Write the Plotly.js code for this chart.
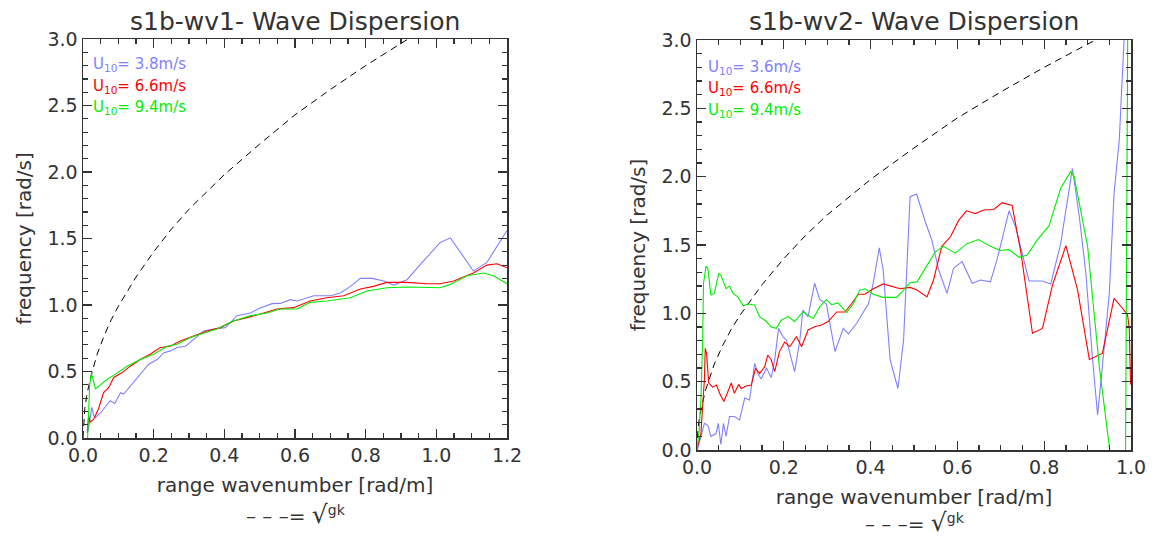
<!DOCTYPE html>
<html>
<head>
<meta charset="utf-8">
<script src="https://cdn.plot.ly/plotly-3.0.1.min.js"></script>
<style>html,body{margin:0;padding:0;background:#fff;}#chart{width:1155px;height:541px;}</style>
</head>
<body>
<div id="chart"></div>
<script>
// ---- data ----
// deep-water dispersion curve (dashed), sqrt(gk)
const dispK = [0, 0.002, 0.005, 0.01, 0.02, 0.04, 0.06, 0.08, 0.1, 0.15, 0.2, 0.25, 0.3, 0.4, 0.5, 0.6, 0.7, 0.8, 0.9, 0.95, 1.0, 1.1, 1.2];
const dispW = [0, 0.14, 0.22, 0.31, 0.44, 0.63, 0.77, 0.89, 0.99, 1.21, 1.40, 1.57, 1.72, 1.98, 2.21, 2.43, 2.62, 2.80, 2.97, 3.05, 3.13, 3.28, 3.43];

// s1b-wv1
const wv1BlueK = [0.014,0.019,0.025,0.03,0.035,0.05,0.065,0.077,0.09,0.106,0.115,0.134,0.162,0.186,0.21,0.228,0.247,0.266,0.29,0.313,0.342,0.37,0.403,0.436,0.474,0.5,0.535,0.558,0.587,0.606,0.653,0.70,0.728,0.757,0.785,0.818,0.851,0.879,0.917,0.955,1.011,1.04,1.105,1.143,1.2];
const wv1BlueW = [0.05,0.12,0.23,0.17,0.155,0.19,0.24,0.28,0.26,0.34,0.33,0.39,0.48,0.555,0.59,0.64,0.655,0.68,0.69,0.74,0.805,0.82,0.83,0.92,0.94,0.975,1.01,1.012,1.04,1.03,1.07,1.07,1.09,1.14,1.20,1.20,1.18,1.15,1.19,1.305,1.47,1.505,1.255,1.32,1.56];
const wv1RedK = [0.012,0.016,0.02,0.03,0.044,0.058,0.073,0.087,0.11,0.134,0.162,0.19,0.219,0.247,0.275,0.313,0.351,0.389,0.426,0.464,0.50,0.549,0.596,0.643,0.69,0.738,0.785,0.822,0.86,0.917,0.974,1.011,1.049,1.105,1.143,1.172,1.2];
const wv1RedW = [0.04,0.17,0.12,0.14,0.22,0.34,0.38,0.455,0.49,0.54,0.59,0.63,0.68,0.69,0.73,0.77,0.805,0.83,0.88,0.905,0.93,0.97,0.98,1.03,1.055,1.07,1.12,1.14,1.17,1.17,1.16,1.16,1.18,1.24,1.30,1.31,1.28];
const wv1GreenK = [0.013,0.016,0.019,0.024,0.029,0.035,0.045,0.068,0.092,0.125,0.162,0.2,0.238,0.266,0.304,0.342,0.379,0.426,0.474,0.521,0.558,0.606,0.643,0.69,0.757,0.804,0.86,0.917,0.974,1.011,1.04,1.087,1.134,1.162,1.2];
const wv1GreenW = [0.0,0.2,0.40,0.485,0.43,0.37,0.39,0.44,0.48,0.54,0.59,0.63,0.69,0.705,0.755,0.79,0.82,0.88,0.92,0.94,0.97,0.97,1.02,1.03,1.055,1.105,1.13,1.135,1.135,1.13,1.155,1.22,1.24,1.22,1.16];

// s1b-wv2
const wv2BlueK = [0.0015,0.005,0.013,0.017,0.025,0.032,0.044,0.049,0.055,0.061,0.067,0.075,0.086,0.098,0.11,0.121,0.133,0.14,0.148,0.16,0.171,0.179,0.188,0.198,0.206,0.225,0.237,0.244,0.256,0.271,0.283,0.298,0.318,0.337,0.349,0.368,0.395,0.406,0.42,0.429,0.445,0.463,0.476,0.491,0.506,0.526,0.541,0.557,0.576,0.591,0.611,0.634,0.653,0.676,0.692,0.719,0.734,0.765,0.796,0.815,0.838,0.865,0.881,0.896,0.911,0.923,0.934,0.95,0.961,0.973,0.99];
const wv2BlueW = [0.01,0.05,0.146,0.195,0.18,0.10,0.12,0.195,0.04,0.195,0.10,0.245,0.245,0.22,0.38,0.366,0.634,0.56,0.52,0.60,0.53,0.66,0.89,0.83,0.805,0.573,0.805,1.024,0.976,1.22,1.10,1.07,0.72,0.89,0.85,0.927,1.07,1.22,1.48,1.317,0.66,0.45,0.805,1.854,1.873,1.67,1.537,1.317,1.146,1.33,1.378,1.22,1.244,1.23,1.40,1.75,1.634,1.237,1.237,1.215,1.51,2.06,1.707,1.293,0.683,0.256,0.61,1.146,1.878,2.27,3.4];
const wv2RedK = [0,0.009,0.013,0.017,0.019,0.022,0.027,0.036,0.045,0.052,0.062,0.071,0.079,0.086,0.096,0.102,0.113,0.125,0.135,0.144,0.156,0.163,0.171,0.179,0.19,0.202,0.214,0.229,0.241,0.256,0.271,0.287,0.302,0.322,0.341,0.356,0.372,0.387,0.406,0.429,0.449,0.468,0.491,0.507,0.53,0.545,0.564,0.584,0.603,0.621,0.641,0.661,0.684,0.703,0.726,0.746,0.773,0.796,0.819,0.85,0.877,0.904,0.934,0.961,0.977,0.992,0.996,0.999];
const wv2RedW = [0.01,0.12,0.32,0.51,0.744,0.707,0.49,0.46,0.475,0.415,0.354,0.427,0.49,0.415,0.48,0.45,0.468,0.475,0.598,0.56,0.61,0.695,0.66,0.573,0.72,0.79,0.756,0.83,0.756,0.878,0.902,0.915,0.94,1.01,1.01,1.07,1.14,1.14,1.18,1.215,1.195,1.18,1.19,1.17,1.12,1.244,1.49,1.56,1.68,1.75,1.73,1.756,1.76,1.81,1.79,1.45,0.854,0.89,1.207,1.495,1.17,0.663,0.707,1.11,1.05,0.99,0.89,0.48];
const wv2GreenK = [0,0.005,0.009,0.013,0.015,0.021,0.025,0.032,0.04,0.05,0.055,0.067,0.075,0.083,0.094,0.107,0.117,0.133,0.144,0.16,0.171,0.183,0.194,0.21,0.225,0.244,0.268,0.283,0.298,0.31,0.325,0.345,0.36,0.375,0.387,0.406,0.429,0.46,0.476,0.491,0.507,0.526,0.549,0.568,0.595,0.622,0.649,0.676,0.699,0.719,0.742,0.761,0.784,0.811,0.838,0.861,0.869,0.9,0.927,0.951,0.965,0.987,0.993];
const wv2GreenW = [0.01,0.146,0.366,0.80,1.22,1.346,1.33,1.134,1.146,1.29,1.28,1.18,1.2,1.146,1.12,1.054,1.07,1.06,0.976,0.94,0.90,0.89,0.95,0.976,0.94,1.01,0.963,1.05,1.10,1.063,1.076,1.005,1.07,1.17,1.18,1.14,1.117,1.117,1.17,1.224,1.23,1.33,1.45,1.49,1.44,1.51,1.54,1.49,1.46,1.466,1.41,1.427,1.537,1.64,1.915,2.037,2.0,1.49,0.61,0.0,-0.4,-0.3,3.4];

const panelTitles = ['s1b-wv1- Wave Dispersion', 's1b-wv2- Wave Dispersion'];
const wv1Labels = ['3.8', '6.6', '9.4'];
const wv2Labels = ['3.6', '6.6', '9.4'];
const xTitle = 'range wavenumber [rad/m]';
const yTitle = 'frequency [rad/s]';

// ---- styling ----
const W = 1155, H = 541;
const BLUE = '#8080ff', RED = '#ff0000', GREEN = '#00ee00';
const TXT = '#333333';
const FONT = 'DejaVu Sans, sans-serif';
const px = x => x / W;
const py = y => 1 - y / H;

function line(x, y, color, xa, ya, dash) {
  return {x: x, y: y, type: 'scatter', mode: 'lines', xaxis: xa, yaxis: ya,
          line: {color: color, width: dash ? 1 : 1.1, dash: dash || 'solid'}, hoverinfo: 'skip'};
}

const traces = [
  line(dispK, dispW, '#000000', 'x', 'y', '7px,5px'),
  line(wv1BlueK, wv1BlueW, BLUE, 'x', 'y'),
  line(wv1RedK, wv1RedW, RED, 'x', 'y'),
  line(wv1GreenK, wv1GreenW, GREEN, 'x', 'y'),
  line(dispK, dispW, '#000000', 'x2', 'y2', '7px,5px'),
  line(wv2BlueK, wv2BlueW, BLUE, 'x2', 'y2'),
  line(wv2RedK, wv2RedW, RED, 'x2', 'y2'),
  line(wv2GreenK, wv2GreenW, GREEN, 'x2', 'y2')
];

function xax(domain, range, anchor) {
  return {domain: domain, range: range, anchor: anchor, tick0: 0, dtick: 0.2, tickformat: '.1f',
    ticks: 'inside', ticklen: 9, tickwidth: 1.2, tickcolor: TXT, mirror: 'ticks',
    showline: true, linecolor: TXT, linewidth: 1.5, showgrid: false, zeroline: false,
    minor: {dtick: 0.05, ticks: 'inside', ticklen: 5, tickwidth: 1.2, tickcolor: TXT, showgrid: false},
    tickfont: {family: FONT, size: 19, color: TXT}, fixedrange: true, automargin: false,
    title: {text: xTitle, font: {family: FONT, size: 20, color: TXT}, standoff: 12}};
}
function yax(domain, anchor) {
  return {domain: domain, range: [0, 3], anchor: anchor, tick0: 0, dtick: 0.5, tickformat: '.1f',
    ticks: 'inside', ticklen: 9, tickwidth: 1.2, tickcolor: TXT, mirror: 'ticks',
    showline: true, linecolor: TXT, linewidth: 1.5, showgrid: false, zeroline: false,
    minor: {dtick: 0.1, ticks: 'inside', ticklen: 5, tickwidth: 1.2, tickcolor: TXT, showgrid: false},
    tickfont: {family: FONT, size: 19, color: TXT}, fixedrange: true, automargin: false,
    title: {text: yTitle, font: {family: FONT, size: 20, color: TXT}, standoff: 10}};
}

const annotations = [];
function addText(text, x, y, size, color, xanchor) {
  annotations.push({text: text, x: px(x), y: py(y), xref: 'paper', yref: 'paper', showarrow: false,
    xanchor: xanchor || 'center', yanchor: 'middle', font: {family: FONT, size: size, color: color}});
}
addText(panelTitles[0], 295, 21, 25, TXT);
addText(panelTitles[1], 914, 22, 25, TXT);
const cols = [BLUE, RED, GREEN];
wv1Labels.forEach((v, i) => addText('U<sub>10</sub>= ' + v + 'm/s', 91, 65 + i * 21.5, 15, cols[i], 'left'));
wv2Labels.forEach((v, i) => addText('U<sub>10</sub>= ' + v + 'm/s', 706, 67 + i * 21.5, 15, cols[i], 'left'));
const sq = '– – –= <span style="font-size:25px">√</span><sup>gk</sup>';
addText(sq, 296, 514, 20, TXT);
addText(sq, 915, 522, 20, TXT);

const layout = {
  width: W, height: H, margin: {l: 0, r: 0, t: 0, b: 0},
  paper_bgcolor: '#ffffff', plot_bgcolor: '#ffffff', showlegend: false,
  font: {family: FONT, color: TXT},
  xaxis: xax([px(83), px(507)], [0, 1.2], 'y'),
  yaxis: yax([py(438), py(39)], 'x'),
  xaxis2: xax([px(697), px(1131)], [0, 1.0], 'y2'),
  yaxis2: yax([py(450), py(40)], 'x2'),
  annotations: annotations
};

Plotly.newPlot('chart', traces, layout, {staticPlot: true, displayModeBar: false});
</script>
</body>
</html>
